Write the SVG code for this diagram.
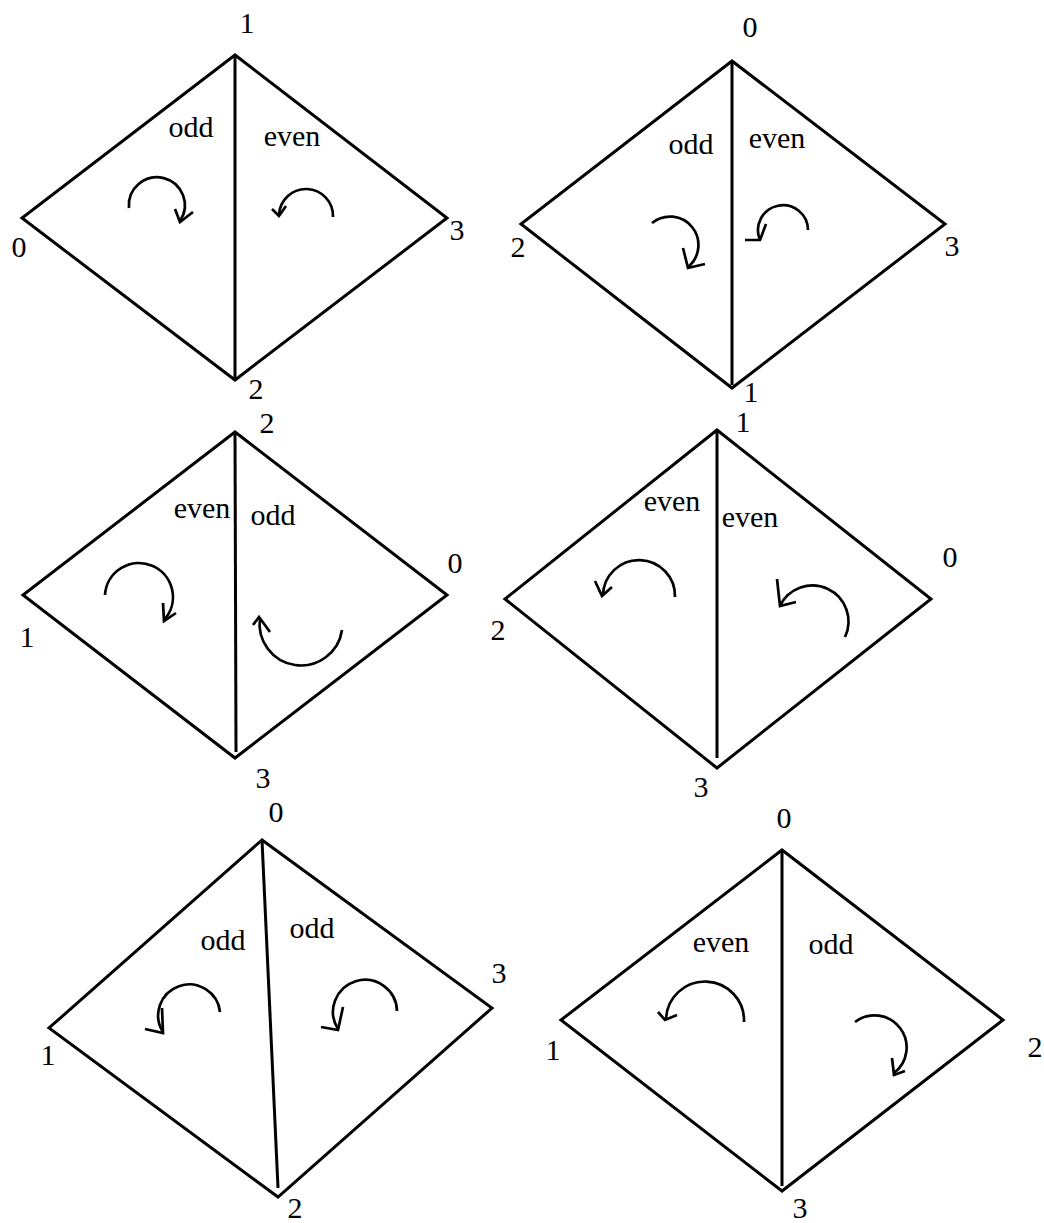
<svg xmlns="http://www.w3.org/2000/svg" width="1044" height="1223" viewBox="0 0 1044 1223">
<style>
.edge{fill:none;stroke:#000;stroke-width:3;stroke-linejoin:miter}
.arc{fill:none;stroke:#000;stroke-width:2.7}
.lbl{font-size:30px;fill:#000;text-anchor:middle}
</style>
<rect width="1044" height="1223" fill="#fff"/>
<g id="diamond1">
<polygon class="edge" points="235,55 22,218 235,380 447,218"/>
<g class="lbl" font-family="Liberation Serif, serif">
<text x="247" y="33">1</text><text x="19" y="257">0</text><text x="457" y="240">3</text><text x="256" y="399">2</text>
<text x="191" y="137">odd</text><text x="292" y="146">even</text>
</g>
</g>
<g id="diamond2">
<polygon class="edge" points="732,61 521,224 732,388 945,224"/>
<g class="lbl" font-family="Liberation Serif, serif">
<text x="750" y="37">0</text><text x="518" y="257">2</text><text x="952" y="256">3</text><text x="751" y="402">1</text>
<text x="691" y="154">odd</text><text x="777" y="148">even</text>
</g>
</g>
<g id="diamond3">
<polygon class="edge" points="235,432 23,595 235,758 447,595"/>
<g class="lbl" font-family="Liberation Serif, serif">
<text x="267" y="433">2</text><text x="455" y="573">0</text><text x="27" y="647">1</text><text x="263" y="788">3</text>
<text x="202" y="518">even</text><text x="273" y="525">odd</text>
</g>
</g>
<g id="diamond4">
<polygon class="edge" points="717,430 505,599 717,768 931,599"/>
<g class="lbl" font-family="Liberation Serif, serif">
<text x="743" y="432">1</text><text x="950" y="567">0</text><text x="498" y="640">2</text><text x="701" y="797">3</text>
<text x="672" y="511">even</text><text x="750" y="527">even</text>
</g>
</g>
<g id="diamond5">
<polygon class="edge" points="262,840 49,1028 278,1197 492,1008"/>
<g class="lbl" font-family="Liberation Serif, serif">
<text x="276" y="822">0</text><text x="499" y="983">3</text><text x="48" y="1065">1</text><text x="295" y="1218">2</text>
<text x="223" y="950">odd</text><text x="312" y="938">odd</text>
</g>
</g>
<g id="diamond6">
<polygon class="edge" points="782,850 561,1020 782,1191 1003,1020"/>
<g class="lbl" font-family="Liberation Serif, serif">
<text x="784" y="828">0</text><text x="553" y="1060">1</text><text x="1035" y="1057">2</text><text x="800" y="1218">3</text>
<text x="721" y="952">even</text><text x="831" y="954">odd</text>
</g>
</g>
<g id="connectors">
<line class="edge" x1="235" y1="55" x2="235" y2="380"/>
<line class="edge" x1="732" y1="61" x2="732" y2="385"/>
<line class="edge" x1="235" y1="432" x2="236" y2="752"/>
<line class="edge" x1="717" y1="430" x2="717" y2="758"/>
<line class="edge" x1="262" y1="840" x2="278" y2="1188"/>
<line class="edge" x1="782" y1="850" x2="782" y2="1186"/>
</g>
<g id="arrows">
<path class="arc" d="M129,208 A28,28 0 1 1 180,221"/>
<polyline class="arc" points="175,209 180,222 193,212"/>
<path class="arc" d="M333,217 A27,27 0 0 0 279,215"/>
<polyline class="arc" points="272,209 279,216 286,206"/>
<path class="arc" d="M652,223 A28,28 0 1 1 688,267"/>
<polyline class="arc" points="683,248 688,268 705,264"/>
<path class="arc" d="M808,230 A25,25 0 1 0 760,240"/>
<polyline class="arc" points="766,224 760,240 745,240"/>
<path class="arc" d="M105,595 A34,34 0 1 1 164,620"/>
<polyline class="arc" points="163,603 164,621 176,613"/>
<path class="arc" d="M342,630 A41,41 0 0 1 260,618"/>
<polyline class="arc" points="253,625 259,617 270,632"/>
<path class="arc" d="M675,597 A35,35 0 0 0 603,595"/>
<polyline class="arc" points="595,581 602,596 612,587"/>
<path class="arc" d="M845,637 A36,36 0 0 0 780,606"/>
<polyline class="arc" points="777,579 780,606 796,602"/>
<path class="arc" d="M220,1012 A31,31 0 1 0 163,1032"/>
<polyline class="arc" points="162,1008 163,1033 145,1029"/>
<path class="arc" d="M397,1011 A32,32 0 1 0 338,1029"/>
<polyline class="arc" points="343,1007 338,1030 321,1027"/>
<path class="arc" d="M744,1022 A39,39 0 0 0 666,1019"/>
<polyline class="arc" points="658,1012 665,1020 677,1015"/>
<path class="arc" d="M855,1022 A32,32 0 1 1 894,1073"/>
<polyline class="arc" points="892,1058 894,1075 905,1071"/>
</g>
</svg>
